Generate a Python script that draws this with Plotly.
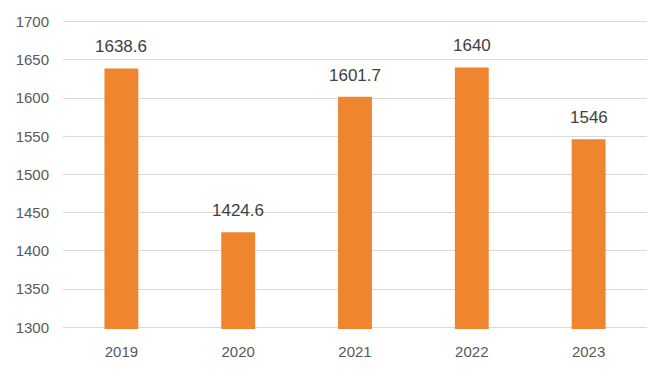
import plotly.graph_objects as go

years = ["2019", "2020", "2021", "2022", "2023"]
values = [1638.6, 1424.6, 1601.7, 1640, 1546]
labels = ["1638.6", "1424.6", "1601.7", "1640", "1546"]
yticks = [1300, 1350, 1400, 1450, 1500, 1550, 1600, 1650, 1700]

fig = go.Figure()
fig.add_trace(go.Bar(
    x=years, y=values, base=0,
    marker=dict(color="#EF852F", line=dict(width=0)),
    hoverinfo="skip",
))
# on a category axis, annotation x is the category index
for i, (v, t) in enumerate(zip(values, labels)):
    fig.add_annotation(x=i, y=v, xref="x", yref="y", text=t, showarrow=False,
                       yanchor="bottom", yshift=10,
                       font=dict(family="Liberation Sans", size=17, color="#404040"))

fig.update_layout(
    width=669, height=377,
    margin=dict(l=63, r=22, t=20, b=48),
    paper_bgcolor="white", plot_bgcolor="white",
    showlegend=False,
    bargap=0.71,
    font=dict(family="Liberation Sans", size=15, color="#595959"),
)
# small padding on both ends so the 1300 and 1700 gridlines are drawn
fig.update_yaxes(range=[1298, 1702], tickvals=yticks, showgrid=True, gridcolor="#D9D9D9",
                 gridwidth=1, zeroline=False, showline=False, ticks="outside", ticklen=10,
                 tickcolor="rgba(0,0,0,0)", tickfont=dict(size=15, color="#595959"))
fig.update_xaxes(type="category", showgrid=False, showline=False,
                 ticks="outside", ticklen=9, tickcolor="rgba(0,0,0,0)",
                 tickfont=dict(size=15, color="#595959"))
fig.write_html("out.html", config={"displayModeBar": False},
               post_script="document.body.style.margin='0';")
